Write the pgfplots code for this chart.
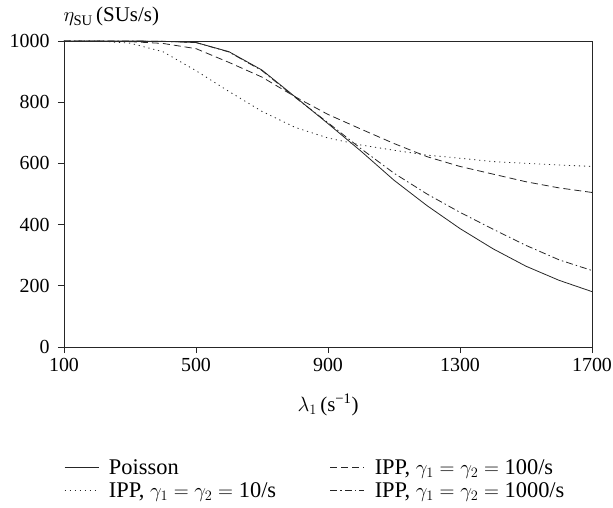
\documentclass[border=0pt]{standalone}
\usepackage{fontspec}
\setmainfont{Liberation Serif}
\usepackage{pgfplots}
\pgfplotsset{compat=1.18}
\newcommand{\fs}{\fontsize{20}{23}\selectfont}
\newcommand{\fl}{\fontsize{22.5}{26}\selectfont}
\begin{document}
\begin{tikzpicture}[font=\fs]
\path[use as bounding box] (-64bp,-161bp) rectangle (549bp,347bp);
\begin{axis}[
  scale only axis,
  width=528bp, height=306bp,
  xmin=100, xmax=1700, ymin=0, ymax=1000,
  xtick={100,500,900,1300,1700},
  ytick={0,200,400,600,800,1000},
  tick align=outside,
  xtick pos=left, ytick pos=left,
  major tick length=6bp,
  axis line style={black!85, line width=0.7pt},
  every tick/.style={black!85, line width=0.7pt},
  /pgf/number format/assume math mode=true,
  /pgf/number format/1000 sep={},
  tick label style={font=\fs},
  xticklabel style={yshift=-2bp},
  yticklabel style={xshift=-5bp},
  xlabel={$\lambda_1$\,(s\textsuperscript{−1})},
  every axis x label/.style={at={(rel axis cs:0.5,0)}, anchor=center, yshift=-58bp, font=\fontsize{21}{24}\selectfont},
  ylabel={$\eta_{\mathrm{SU}}$\,(SUs/s)},
  every axis y label/.style={at={(rel axis cs:0,1)}, anchor=base west, xshift=-4bp, yshift=19bp, font=\fontsize{21}{24}\selectfont},
  legend columns=2,
  legend cell align=left,
  legend style={draw=none, fill=none, at={(rel axis cs:0,0)}, anchor=north west, xshift=0bp, yshift=-110bp,
    font=\fl, row sep=3bp, inner sep=0pt,
    /tikz/every odd column/.append style={column sep=8bp}},
  legend image code/.code={\draw[#1] (0bp,0bp) -- (34bp,0bp);},
  every axis plot/.append style={line width=0.8pt, black!85},
]
\addplot[solid] coordinates {
(100,1000) (200,1000) (300,1000) (400,999) (500,995) (600,965) (700,905) (800,818)
(900,730) (1000,640) (1100,545) (1200,462) (1300,387) (1400,321) (1500,264) (1600,218) (1700,181)};
\addlegendentry{\makebox[219bp][l]{Poisson}}
\addplot[dash pattern=on 7bp off 4bp] coordinates {
(100,1000) (200,1000) (300,998) (400,992) (500,975) (600,930) (700,882) (800,818)
(900,760) (1000,712) (1100,665) (1200,622) (1300,590) (1400,565) (1500,540) (1600,520) (1700,505)};
\addlegendentry{IPP, $\gamma_1=\gamma_2={}$100/s}
\addplot[dash pattern=on 1.2bp off 3.8bp] coordinates {
(100,1000) (200,1000) (300,993) (400,965) (500,903) (600,835) (700,770) (800,718)
(900,683) (1000,660) (1100,643) (1200,627) (1300,617) (1400,606) (1500,600) (1600,595) (1700,590)};
\addlegendentry{\makebox[219bp][l]{IPP, $\gamma_1=\gamma_2={}$10/s}}
\addplot[dash pattern=on 7bp off 3bp on 1.5bp off 3bp] coordinates {
(100,1000) (200,1000) (300,1000) (400,999) (500,995) (600,964) (700,903) (800,816)
(900,733) (1000,648) (1100,568) (1200,500) (1300,440) (1400,385) (1500,332) (1600,285) (1700,250)};
\addlegendentry{IPP, $\gamma_1=\gamma_2={}$1000/s}
\end{axis}
\end{tikzpicture}
\end{document}
